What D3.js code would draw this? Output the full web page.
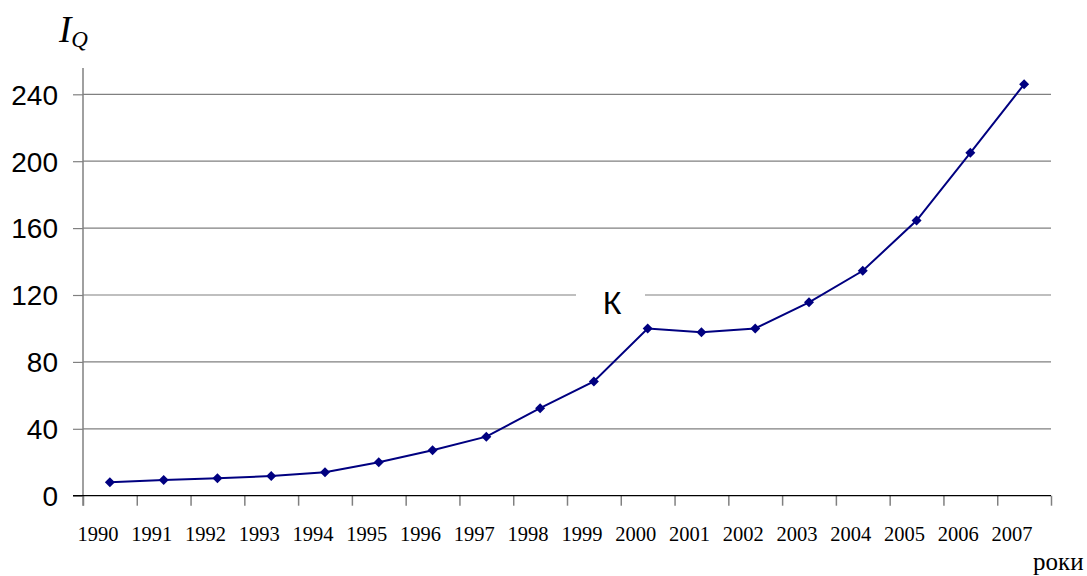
<!DOCTYPE html>
<html>
<head>
<meta charset="utf-8">
<script src="https://cdn.jsdelivr.net/npm/d3@7"></script>
<style>
  body { margin: 0; background: #fff; }
  svg { display: block; }
</style>
</head>
<body>
<svg width="1087" height="576"></svg>
<script>
  const years = ["1990", "1991", "1992", "1993", "1994", "1995", "1996", "1997", "1998",
    "1999", "2000", "2001", "2002", "2003", "2004", "2005", "2006", "2007"];
  const values = [8, 9.4, 10.4, 11.8, 14, 20, 27.2, 35.3, 52.3, 68.3, 100, 97.8, 100, 115.6,
    134.5, 164.5, 205, 246];
  const yTicks = [0, 40, 80, 120, 160, 200, 240];

  (function () {
    const svg = d3.select("svg");
    const plotLeft = 83, plotRight = 1051, plotTop = 94.3, plotBottom = 495.7;

    // points sit in the middle of each year band, ticks on band edges
    const x = d3.scaleBand().domain(years).range([plotLeft, plotRight]).padding(0);
    const xEdge = d3.scaleLinear().domain([0, years.length]).range([plotLeft, plotRight]);
    const y = d3.scaleLinear().domain([0, 240]).range([plotBottom, plotTop]);

    // gridlines
    svg.append("g")
      .selectAll("line")
      .data(yTicks.filter(d => d > 0))
      .join("line")
      .attr("x1", plotLeft).attr("x2", plotRight)
      .attr("y1", d => y(d)).attr("y2", d => y(d))
      .attr("stroke", "#808080").attr("stroke-width", 1.2);

    // y axis
    const yAxis = svg.append("g")
      .attr("transform", `translate(${plotLeft},0)`)
      .call(d3.axisLeft(y).tickValues(yTicks).tickSize(10).tickPadding(15));
    yAxis.select(".domain").remove();
    yAxis.selectAll(".tick line").attr("stroke", "#808080").attr("stroke-width", 1.2);
    yAxis.selectAll(".tick text")
      .attr("font-family", "Liberation Sans, Arial, sans-serif")
      .attr("font-size", 28).attr("fill", "#000").attr("dy", "0.35em");
    svg.append("line")
      .attr("x1", plotLeft).attr("x2", plotLeft).attr("y1", 68).attr("y2", plotBottom + 10)
      .attr("stroke", "#808080").attr("stroke-width", 1.5);

    // x axis
    const xAxis = svg.append("g")
      .attr("transform", `translate(0,${plotBottom})`)
      .call(d3.axisBottom(xEdge).tickValues(d3.range(years.length + 1)).tickSize(10).tickFormat(""));
    xAxis.select(".domain").remove();
    xAxis.selectAll(".tick line").attr("stroke", "#808080").attr("stroke-width", 1.5);
    svg.append("line")
      .attr("x1", plotLeft - 10).attr("x2", plotRight).attr("y1", plotBottom).attr("y2", plotBottom)
      .attr("stroke", "#000").attr("stroke-width", 1.3);

    svg.append("g")
      .selectAll("text")
      .data(years)
      .join("text")
      .attr("x", d => x(d) + x.bandwidth() / 2 - 12)
      .attr("y", 541)
      .attr("text-anchor", "middle")
      .attr("font-family", "Liberation Serif, Times New Roman, serif")
      .attr("font-size", 20.5)
      .text(d => d);

    // label К over the 120 gridline
    svg.append("rect")
      .attr("x", 576).attr("y", y(120) - 3).attr("width", 69).attr("height", 6)
      .attr("fill", "#fff");
    svg.append("text")
      .attr("x", 612).attr("y", 314)
      .attr("text-anchor", "middle")
      .attr("font-family", "Liberation Sans, Arial, sans-serif")
      .attr("font-size", 32)
      .text("К");

    // series
    const line = d3.line()
      .x((d, i) => x(years[i]) + x.bandwidth() / 2)
      .y(d => y(d));
    svg.append("path")
      .datum(values)
      .attr("d", line)
      .attr("fill", "none")
      .attr("stroke", "#000080")
      .attr("stroke-width", 2);

    const marker = d3.symbol().type(d3.symbolSquare).size(50);
    svg.append("g")
      .selectAll("path")
      .data(values)
      .join("path")
      .attr("d", marker)
      .attr("transform", (d, i) => `translate(${x(years[i]) + x.bandwidth() / 2},${y(d)}) rotate(45)`)
      .attr("fill", "#000080");

    // axis titles
    const yTitle = svg.append("text")
      .attr("x", 59).attr("y", 42)
      .attr("font-family", "Liberation Serif, Times New Roman, serif")
      .attr("font-style", "italic");
    yTitle.append("tspan").attr("font-size", 37).text("I");
    yTitle.append("tspan").attr("font-size", 23).attr("dy", 5).text("Q");

    svg.append("text")
      .attr("x", 1033).attr("y", 570)
      .attr("font-family", "Liberation Serif, Times New Roman, serif")
      .attr("font-size", 25)
      .text("роки");
  })();
</script>
</body>
</html>
